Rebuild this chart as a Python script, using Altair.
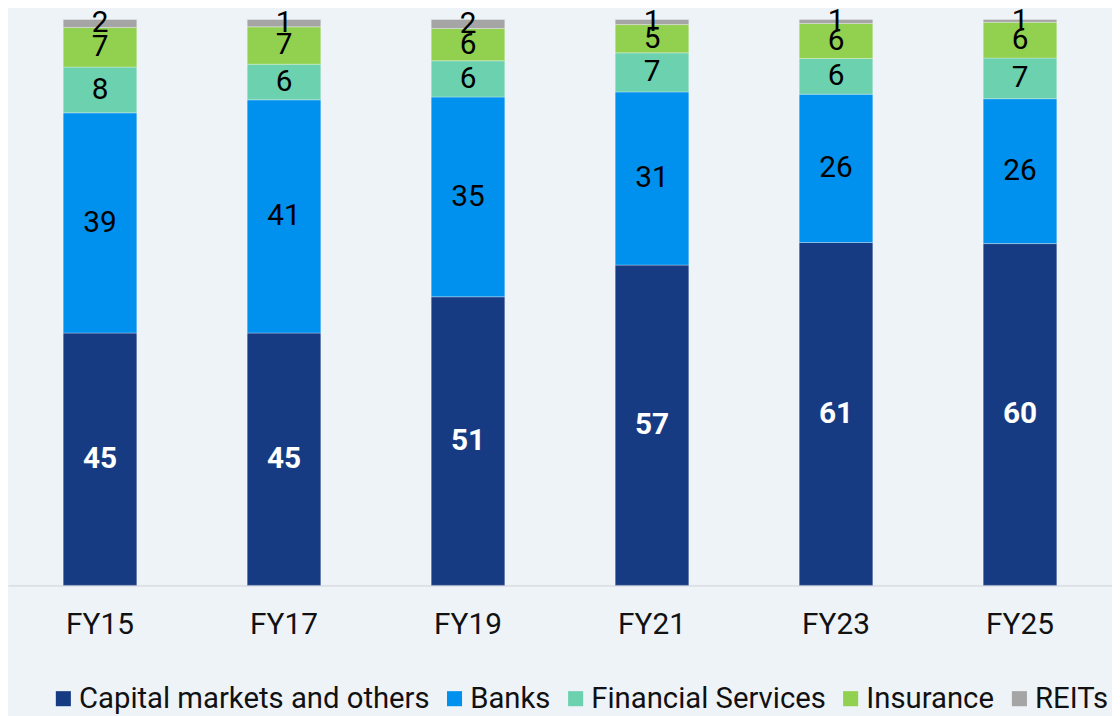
import altair as alt
import pandas as pd

years = ["FY15", "FY17", "FY19", "FY21", "FY23", "FY25"]
segments = ["Capital markets and others", "Banks", "Financial Services", "Insurance", "REITs"]
colors = ["#173B82", "#0091EE", "#6CD1AE", "#92D050", "#A5A5A5"]

capital = [44.6, 44.6, 51.0, 56.6, 60.6, 60.4]
banks = [38.9, 41.2, 35.3, 30.6, 26.2, 25.6]
fin_services = [8.1, 6.3, 6.4, 6.9, 6.3, 7.2]
insurance = [7.0, 6.6, 5.7, 5.0, 6.2, 6.3]
reits = [1.4, 1.3, 1.6, 0.9, 0.7, 0.5]

capital_lbl = ["45", "45", "51", "57", "61", "60"]
banks_lbl = ["39", "41", "35", "31", "26", "26"]
fin_lbl = ["8", "6", "6", "7", "6", "7"]
ins_lbl = ["7", "7", "6", "5", "6", "6"]
reits_lbl = ["2", "1", "2", "1", "1", "1"]

series = [capital, banks, fin_services, insurance, reits]
labels = [capital_lbl, banks_lbl, fin_lbl, ins_lbl, reits_lbl]

rows = []
for si, (seg, vals, lbls) in enumerate(zip(segments, series, labels)):
    for yr, v, l in zip(years, vals, lbls):
        rows.append({"year": yr, "segment": seg, "value": v, "label": l, "order": si})
df = pd.DataFrame(rows)

FONT = "Roboto"

base = alt.Chart(df).transform_stack(
    stack="value",
    groupby=["year"],
    sort=[alt.SortField("order", order="ascending")],
    as_=["y0", "y1"],
).transform_calculate(mid="(datum.y0 + datum.y1) / 2")

x_enc = alt.X(
    "year:N",
    sort=years,
    title=None,
    scale=alt.Scale(paddingInner=0.6, paddingOuter=0.3),
    axis=alt.Axis(
        labelAngle=0,
        labelFontSize=30,
        labelFont=FONT,
        labelColor="#111111",
        labelPadding=24,
        ticks=False,
        domainColor="#d4d8dc",
        domainWidth=1.5,
    ),
)
y_scale = alt.Scale(domain=[0, 100], nice=False)

bars = base.mark_bar(stroke="#ffffff", strokeWidth=0.6, strokeOpacity=0.5).encode(
    x=x_enc,
    y=alt.Y("y0:Q", scale=y_scale, axis=None),
    y2="y1:Q",
    color=alt.Color(
        "segment:N",
        sort=segments,
        scale=alt.Scale(domain=segments, range=colors),
        legend=alt.Legend(
            title=None,
            orient="none",
            direction="horizontal",
            legendX=41,
            legendY=669,
            symbolType="square",
            symbolSize=230,
            symbolStrokeWidth=0,
            labelFontSize=29.5,
            labelFont=FONT,
            labelColor="#111111",
            labelLimit=0,
            labelOffset=1,
            columnPadding=10,
            symbolOpacity=1,
        ),
    ),
)

txt_dark = base.transform_filter("datum.order > 0").mark_text(
    fontSize=30, font=FONT, color="#000000", baseline="middle", align="center"
).encode(
    x=alt.X("year:N", sort=years),
    y=alt.Y("mid:Q", scale=y_scale),
    text="label:N",
)

txt_light = base.transform_filter("datum.order == 0").mark_text(
    fontSize=30, font=FONT, color="#ffffff", fontWeight="bold", baseline="middle", align="center"
).encode(
    x=alt.X("year:N", sort=years),
    y=alt.Y("mid:Q", scale=y_scale),
    text="label:N",
)

chart = (
    alt.layer(bars, txt_dark, txt_light)
    .properties(
        width=1112,
        height=570,
        autosize=alt.AutoSizeParams(type="none"),
        padding={"left": 0, "top": 9, "right": 0, "bottom": 129},
        background="#eef3f8",
    )
    .configure_view(stroke=None)
)

chart.save("out.html", embed_options={"renderer": "svg", "actions": False})
